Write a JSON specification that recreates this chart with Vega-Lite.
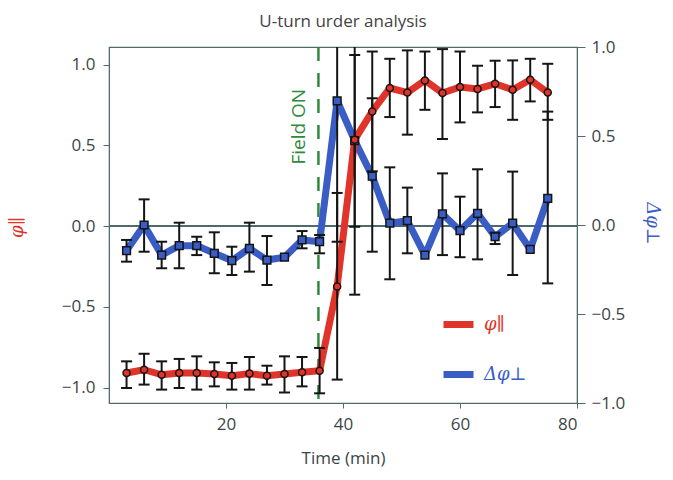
{
  "$schema": "https://vega.github.io/schema/vega-lite/v6.json",
  "width": 468,
  "height": 356,
  "autosize": {"type": "none"},
  "padding": {"left": 109, "top": 47, "right": 96, "bottom": 77},
  "background": "white",
  "title": {"text": "U-turn urder analysis", "fontSize": 17, "font": "Open Sans", "fontWeight": "normal", "color": "#444444", "offset": 7, "anchor": "middle"},
  "config": {
    "view": {"stroke": "#4f6b6e", "strokeWidth": 1.2},
    "axis": {"domainColor": "#4f6b6e", "tickColor": "#4f6b6e", "labelFont": "Open Sans", "labelFontSize": 17, "labelColor": "#3b4646", "titleFont": "Open Sans", "grid": false}
  },
  "data": {"values": [
    {"t": 3, "s": "par", "v": -0.909, "lo": -1.002, "hi": -0.837},
    {"t": 6, "s": "par", "v": -0.889, "lo": -0.981, "hi": -0.79},
    {"t": 9, "s": "par", "v": -0.92, "lo": -1.012, "hi": -0.837},
    {"t": 12, "s": "par", "v": -0.909, "lo": -1.002, "hi": -0.822},
    {"t": 15, "s": "par", "v": -0.909, "lo": -1.012, "hi": -0.806},
    {"t": 18, "s": "par", "v": -0.915, "lo": -0.992, "hi": -0.843},
    {"t": 21, "s": "par", "v": -0.926, "lo": -1.012, "hi": -0.847},
    {"t": 24, "s": "par", "v": -0.913, "lo": -1.012, "hi": -0.81},
    {"t": 27, "s": "par", "v": -0.926, "lo": -0.981, "hi": -0.864},
    {"t": 30, "s": "par", "v": -0.915, "lo": -1.03, "hi": -0.806},
    {"t": 33, "s": "par", "v": -0.905, "lo": -0.992, "hi": -0.81},
    {"t": 36, "s": "par", "v": -0.895, "lo": -1.035, "hi": -0.754},
    {"t": 39, "s": "par", "v": -0.373, "lo": -0.95, "hi": 0.206},
    {"t": 42, "s": "par", "v": 0.536, "lo": -0.424, "hi": 1.496},
    {"t": 45, "s": "par", "v": 0.711, "lo": 0.34, "hi": 1.082},
    {"t": 48, "s": "par", "v": 0.856, "lo": 0.676, "hi": 1.037},
    {"t": 51, "s": "par", "v": 0.828, "lo": 0.567, "hi": 1.089},
    {"t": 54, "s": "par", "v": 0.903, "lo": 0.721, "hi": 1.082},
    {"t": 57, "s": "par", "v": 0.825, "lo": 0.54, "hi": 1.097},
    {"t": 60, "s": "par", "v": 0.862, "lo": 0.643, "hi": 1.082},
    {"t": 63, "s": "par", "v": 0.85, "lo": 0.705, "hi": 0.994},
    {"t": 66, "s": "par", "v": 0.882, "lo": 0.738, "hi": 1.025},
    {"t": 69, "s": "par", "v": 0.845, "lo": 0.659, "hi": 1.027},
    {"t": 72, "s": "par", "v": 0.907, "lo": 0.773, "hi": 1.037},
    {"t": 75, "s": "par", "v": 0.828, "lo": 0.659, "hi": 1.006},
    {"t": 3, "s": "perp", "v": -0.144, "lo": -0.206, "hi": -0.084},
    {"t": 6, "s": "perp", "v": 0.0, "lo": -0.15, "hi": 0.144},
    {"t": 9, "s": "perp", "v": -0.169, "lo": -0.243, "hi": -0.094},
    {"t": 12, "s": "perp", "v": -0.116, "lo": -0.243, "hi": 0.013},
    {"t": 15, "s": "perp", "v": -0.116, "lo": -0.169, "hi": -0.066},
    {"t": 18, "s": "perp", "v": -0.159, "lo": -0.271, "hi": -0.041},
    {"t": 21, "s": "perp", "v": -0.2, "lo": -0.281, "hi": -0.122},
    {"t": 24, "s": "perp", "v": -0.131, "lo": -0.262, "hi": 0.013},
    {"t": 27, "s": "perp", "v": -0.197, "lo": -0.337, "hi": -0.062},
    {"t": 30, "s": "perp", "v": -0.181, "lo": null, "hi": null},
    {"t": 33, "s": "perp", "v": -0.084, "lo": -0.131, "hi": -0.034},
    {"t": 36, "s": "perp", "v": -0.094, "lo": -0.159, "hi": -0.056},
    {"t": 39, "s": "perp", "v": 0.698, "lo": -0.094, "hi": 1.49},
    {"t": 42, "s": "perp", "v": 0.474, "lo": -0.01, "hi": 0.955},
    {"t": 45, "s": "perp", "v": 0.274, "lo": -0.15, "hi": 0.712},
    {"t": 48, "s": "perp", "v": 0.01, "lo": -0.305, "hi": 0.324},
    {"t": 51, "s": "perp", "v": 0.024, "lo": -0.159, "hi": 0.21},
    {"t": 54, "s": "perp", "v": -0.169, "lo": null, "hi": null},
    {"t": 57, "s": "perp", "v": 0.062, "lo": -0.169, "hi": 0.29},
    {"t": 60, "s": "perp", "v": -0.032, "lo": -0.181, "hi": 0.159},
    {"t": 63, "s": "perp", "v": 0.066, "lo": -0.193, "hi": 0.313},
    {"t": 66, "s": "perp", "v": -0.066, "lo": -0.107, "hi": -0.043},
    {"t": 69, "s": "perp", "v": 0.01, "lo": -0.281, "hi": 0.3},
    {"t": 72, "s": "perp", "v": -0.137, "lo": null, "hi": null},
    {"t": 75, "s": "perp", "v": 0.15, "lo": -0.328, "hi": 0.637}
  ]},
  "encoding": {
    "x": {"field": "t", "type": "quantitative", "scale": {"domain": [0, 80], "nice": false, "zero": false},
          "axis": {"values": [20, 40, 60, 80], "title": "Time (min)", "titleFontSize": 17, "titleFontWeight": "normal", "titleColor": "#3b4646", "titlePadding": 18, "tickSize": 5, "labelPadding": 8}}
  },
  "layer": [
    {
      "mark": {"type": "rule", "color": "#4f6b6e", "strokeWidth": 1},
      "encoding": {"x": {"value": 0}, "x2": {"value": 468}, "y": {"datum": 0, "type": "quantitative", "scale": {"domain": [-1.095, 1.11], "nice": false, "zero": false}, "axis": null}}
    },
    {
      "transform": [{"filter": "datum.s === 'par' && datum.t === 36"}],
      "mark": {"type": "rule", "color": "#2f8a3e", "strokeWidth": 2.5, "strokeDash": [14, 12]},
      "encoding": {
        "x": {"datum": 35.8, "type": "quantitative"},
        "y": {"value": 0},
        "y2": {"value": 356}
      }
    },
    {
      "transform": [{"filter": "datum.s === 'par' && datum.t === 36"}],
      "mark": {"type": "text", "text": "Field ON", "angle": 270, "align": "center", "baseline": "middle", "font": "Open Sans", "fontSize": 19, "color": "#2f8a3e"},
      "encoding": {
        "x": {"datum": 32.5, "type": "quantitative"},
        "y": {"datum": 0.616, "type": "quantitative", "scale": {"domain": [-1.095, 1.11], "nice": false, "zero": false}, "axis": null}
      }
    },
    {
      "transform": [{"filter": "datum.s === 'perp'"}],
      "mark": {"type": "line", "strokeWidth": 7, "strokeJoin": "round"},
      "encoding": {
        "y": {"field": "v", "type": "quantitative", "scale": {"domain": [-1, 1], "nice": false, "zero": false},
              "axis": {"orient": "right", "values": [-1, -0.5, 0, 0.5, 1], "format": ".1f", "tickSize": 8, "labelPadding": 6, "title": "Δφ⊥", "titleFont": "DejaVu Serif", "titleFontStyle": "italic", "titleFontWeight": "normal", "titleFontSize": 18, "titleColor": "#3a5cc5", "titleAngle": 90, "titleX": 74, "titleY": 176, "titleAlign": "center", "titleBaseline": "middle"}},
        "color": {"field": "s", "type": "nominal", "scale": {"domain": ["par", "perp"], "range": ["#e0342a", "#3a5cc5"]},
                  "legend": {"orient": "none", "legendX": 331, "legendY": 259, "title": null, "symbolType": "stroke", "symbolStrokeWidth": 7, "symbolSize": 900, "rowPadding": 17, "labelFont": "DejaVu Serif", "labelFontStyle": "italic", "labelFontSize": 18, "labelOffset": 7,
                             "labelExpr": "datum.value === 'par' ? 'φ∥' : 'Δφ⊥'",
                             "encode": {"labels": {"update": {"fill": {"signal": "datum.value === 'par' ? '#e0342a' : '#3a5cc5'"}}}}}}
      }
    },
    {
      "transform": [{"filter": "datum.s === 'par'"}],
      "mark": {"type": "line", "strokeWidth": 7, "strokeJoin": "round"},
      "encoding": {
        "y": {"field": "v", "type": "quantitative", "scale": {"domain": [-1.095, 1.11], "nice": false, "zero": false},
              "axis": {"orient": "left", "values": [-1, -0.5, 0, 0.5, 1], "format": ".1f", "tickSize": 6, "labelPadding": 8, "title": "φ∥", "titleFont": "DejaVu Serif", "titleFontStyle": "italic", "titleFontWeight": "normal", "titleFontSize": 18, "titleColor": "#e0342a", "titleAngle": -90, "titleX": -92, "titleY": 180, "titleAlign": "center", "titleBaseline": "middle"}},
        "color": {"field": "s", "type": "nominal", "scale": {"domain": ["par", "perp"], "range": ["#e0342a", "#3a5cc5"]},
                  "legend": {"orient": "none", "legendX": 331, "legendY": 259, "title": null, "symbolType": "stroke", "symbolStrokeWidth": 7, "symbolSize": 900, "rowPadding": 17, "labelFont": "DejaVu Serif", "labelFontStyle": "italic", "labelFontSize": 18, "labelOffset": 7,
                             "labelExpr": "datum.value === 'par' ? 'φ∥' : 'Δφ⊥'",
                             "encode": {"labels": {"update": {"fill": {"signal": "datum.value === 'par' ? '#e0342a' : '#3a5cc5'"}}}}}}
      }
    },
    {
      "transform": [{"filter": "datum.s === 'perp'"}],
      "mark": {"type": "rule", "color": "#151515", "strokeWidth": 2, "clip": true},
      "encoding": {
        "y": {"field": "lo", "type": "quantitative", "scale": {"domain": [-1, 1], "nice": false, "zero": false}, "axis": null},
        "y2": {"field": "hi"}
      }
    },
    {
      "transform": [{"filter": "datum.s === 'perp'"}],
      "mark": {"type": "tick", "orient": "horizontal", "color": "#151515", "size": 11, "thickness": 2, "opacity": 1, "clip": true},
      "encoding": {
        "y": {"field": "lo", "type": "quantitative", "scale": {"domain": [-1, 1], "nice": false, "zero": false}, "axis": null}
      }
    },
    {
      "transform": [{"filter": "datum.s === 'perp'"}],
      "mark": {"type": "tick", "orient": "horizontal", "color": "#151515", "size": 11, "thickness": 2, "opacity": 1, "clip": true},
      "encoding": {
        "y": {"field": "hi", "type": "quantitative", "scale": {"domain": [-1, 1], "nice": false, "zero": false}, "axis": null}
      }
    },
    {
      "transform": [{"filter": "datum.s === 'par'"}],
      "mark": {"type": "rule", "color": "#151515", "strokeWidth": 2, "clip": true},
      "encoding": {
        "y": {"field": "lo", "type": "quantitative", "scale": {"domain": [-1.095, 1.11], "nice": false, "zero": false}, "axis": null},
        "y2": {"field": "hi"}
      }
    },
    {
      "transform": [{"filter": "datum.s === 'par'"}],
      "mark": {"type": "tick", "orient": "horizontal", "color": "#151515", "size": 11, "thickness": 2, "opacity": 1, "clip": true},
      "encoding": {
        "y": {"field": "lo", "type": "quantitative", "scale": {"domain": [-1.095, 1.11], "nice": false, "zero": false}, "axis": null}
      }
    },
    {
      "transform": [{"filter": "datum.s === 'par'"}],
      "mark": {"type": "tick", "orient": "horizontal", "color": "#151515", "size": 11, "thickness": 2, "opacity": 1, "clip": true},
      "encoding": {
        "y": {"field": "hi", "type": "quantitative", "scale": {"domain": [-1.095, 1.11], "nice": false, "zero": false}, "axis": null}
      }
    },
    {
      "transform": [{"filter": "datum.s === 'perp'"}],
      "mark": {"type": "point", "shape": "square", "filled": true, "fill": "#3a5cc5", "stroke": "#151515", "strokeWidth": 1.5, "size": 60, "opacity": 1},
      "encoding": {
        "y": {"field": "v", "type": "quantitative", "scale": {"domain": [-1, 1], "nice": false, "zero": false}, "axis": null}
      }
    },
    {
      "transform": [{"filter": "datum.s === 'par'"}],
      "mark": {"type": "point", "shape": "circle", "filled": true, "fill": "#e0342a", "stroke": "#151515", "strokeWidth": 1.5, "size": 50, "opacity": 1},
      "encoding": {
        "y": {"field": "v", "type": "quantitative", "scale": {"domain": [-1.095, 1.11], "nice": false, "zero": false}, "axis": null}
      }
    }
  ],
  "resolve": {"scale": {"y": "independent"}}
}
